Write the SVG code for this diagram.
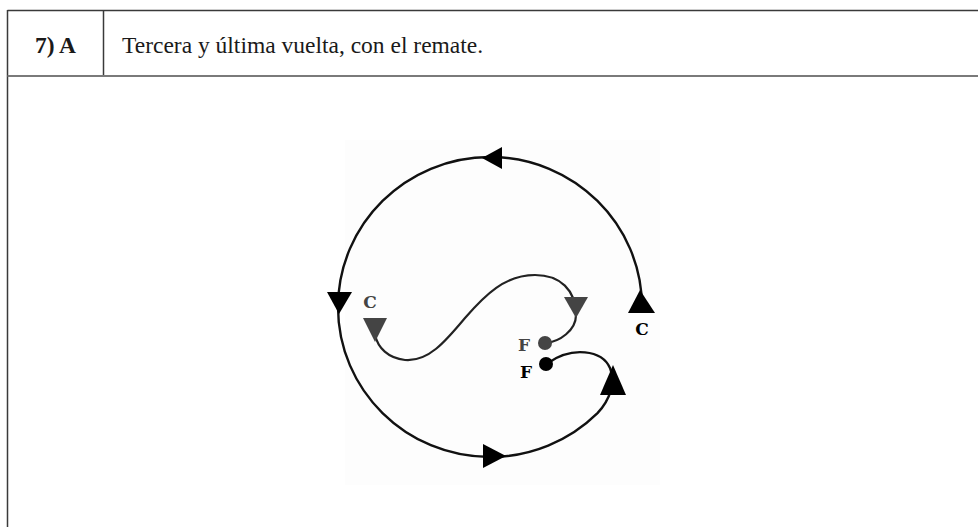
<svg xmlns="http://www.w3.org/2000/svg" width="978" height="527" viewBox="0 0 978 527">
<style>
.frame{stroke:#3a3a3a;stroke-width:1.5;fill:none}
.hdr{font-family:"Liberation Serif",serif;font-size:23.5px;fill:#1a1a1a}
.path{fill:none;stroke:#111;stroke-width:2.4;stroke-linecap:round}
.inner{fill:none;stroke:#222;stroke-width:2.2;stroke-linecap:round}
.ah{fill:#000}
.ahg{fill:#444}
.lbl{font-family:"DejaVu Serif",serif;font-weight:bold;font-size:17px;text-anchor:middle}
</style>
<rect x="0" y="0" width="978" height="527" fill="#fff"/>
<g id="table">
<line class="frame" x1="7.5" y1="10.5" x2="978" y2="10.5"/>
<line class="frame" x1="7.5" y1="10" x2="7.5" y2="527"/>
<line class="frame" x1="103.5" y1="10.5" x2="103.5" y2="75.5"/>
<line x1="7.5" y1="76" x2="978" y2="76" stroke="#7a7a7a" stroke-width="2"/>
<text class="hdr" x="55.5" y="53" text-anchor="middle" font-weight="bold">7) A</text>
<text class="hdr" x="122" y="53">Tercera y última vuelta, con el remate.</text>
</g>
<rect x="345" y="140" width="315" height="345" fill="#fdfdfd"/>
<g id="connectors">
<path id="outer" class="path" d="M642 307 C642 224.2 573.9 157 490 157 C406.1 157 338 224.2 338 307 C338 389.8 406.1 457 490 457 C530.3 457 569 441.2 597.5 413.1 C610 400 616 382 610 368 C602 350 572 346 548 363"/>
<path id="inner" class="inner" d="M545 343 C560 342 576 330 576 315 C576 290 560 275 535 275 C505 275 485 295 465 318 C445 342 428 362 405 360 C388 358 378 348 375 335"/>
</g>
<g id="arrows">
<polygon class="ah" points="482,158 502,147 502,169"/>
<polygon class="ah" points="327,292 352,292 339,314"/>
<polygon class="ah" points="483,444 483,468 506,456"/>
<polygon class="ah" points="613,365 600,395 626,395"/>
<polygon class="ah" points="640,290 628,313 655,313"/>
<polygon class="ahg" points="363,318 387,318 375,342"/>
<polygon class="ahg" points="564,297 588,297 576,318"/>
</g>
<g id="node-F1">
<circle cx="545" cy="343" r="7" fill="#444"/>
<text class="lbl" x="524" y="351" fill="#444">F</text>
</g>
<g id="node-F2">
<circle cx="546" cy="364" r="7" fill="#000"/>
<text class="lbl" x="526" y="378" fill="#000">F</text>
</g>
<g id="node-C1">
<text class="lbl" x="370" y="308" fill="#444">C</text>
</g>
<g id="node-C2">
<text class="lbl" x="642" y="335" fill="#000">C</text>
</g>
</svg>
